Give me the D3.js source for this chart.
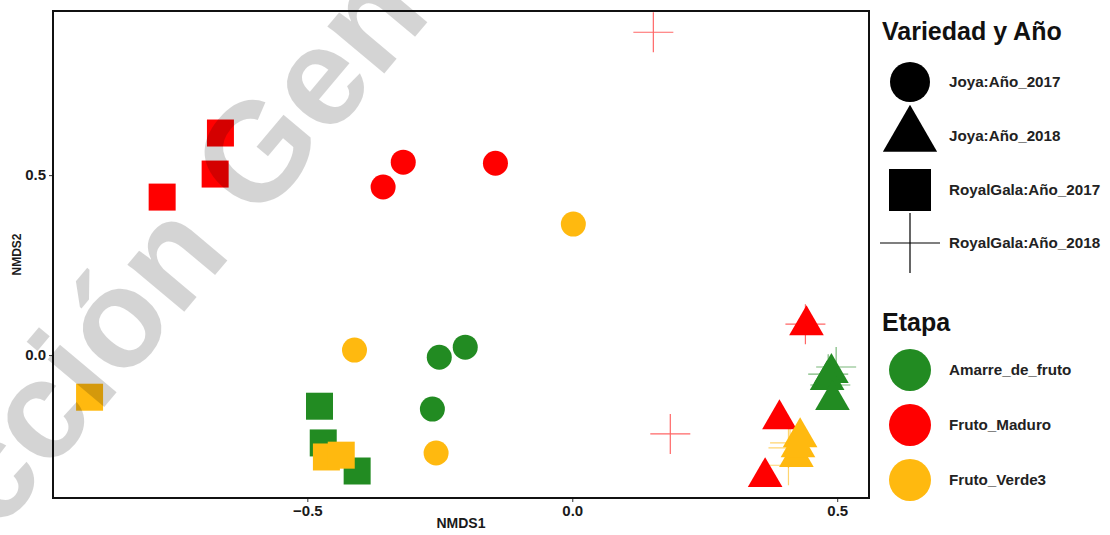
<!DOCTYPE html>
<html>
<head>
<meta charset="utf-8">
<script src="https://cdn.jsdelivr.net/npm/d3@7"></script>
<style>
  html, body { margin: 0; padding: 0; background: #fff; }
  svg { display: block; }
  text { font-family: "Liberation Sans", Arial, sans-serif; font-weight: bold; }
</style>
</head>
<body>
<svg id="chart" width="1110" height="535"></svg>
<script>
// ---- data ----
const groups = ["Joya:Año_2017", "Joya:Año_2018", "RoyalGala:Año_2017", "RoyalGala:Año_2018"];
const stages = ["Amarre_de_fruto", "Fruto_Maduro", "Fruto_Verde3"];
const stageColors = ["#228B22", "#FF0000", "#FFB90F"];

// NMDS1 / NMDS2 per group, per stage (three replicates each)
const joya2017_x = [[-0.251, -0.202, -0.264], [-0.319, -0.357, -0.145], [0.002, -0.257, -0.411]];
const joya2017_y = [[-0.006, 0.022, -0.150], [0.536, 0.467, 0.533], [0.364, -0.272, 0.014]];
const joya2018_x = [[0.489, 0.481, 0.491], [0.442, 0.391, 0.364], [0.430, 0.423, 0.426]];
const joya2018_y = [[-0.050, -0.069, -0.125], [0.083, -0.178, -0.339], [-0.228, -0.283, -0.256]];
const gala2017_x = [[-0.477, -0.470, -0.406], [-0.664, -0.674, -0.774], [-0.911, -0.464, -0.436]];
const gala2017_y = [[-0.142, -0.244, -0.322], [0.617, 0.503, 0.439], [-0.117, -0.283, -0.278]];
const gala2018_x = [[0.498, 0.483, 0.487], [0.153, 0.185, 0.440], [0.411, 0.408, 0.408]];
const gala2018_y = [[-0.033, -0.053, -0.083], [0.897, -0.219, 0.086], [-0.244, -0.258, -0.306]];

const xTicks = [-0.5, 0.0, 0.5];
const yTicks = [0.0, 0.5];
const xTitle = "NMDS1";
const yTitle = "NMDS2";
const shapeTitle = "Variedad y Año";
const colorTitle = "Etapa";
const watermark = "Dirección General";

// ---- build rows ----
const groupData = [
  [joya2017_x, joya2017_y],
  [joya2018_x, joya2018_y],
  [gala2017_x, gala2017_y],
  [gala2018_x, gala2018_y]
];
const rows = [];
groupData.forEach(([gx, gy], gi) => {
  stages.forEach((s, si) => {
    gx[si].forEach((v, k) => rows.push({group: groups[gi], stage: s, x: v, y: gy[si][k]}));
  });
});

// ---- layout ----
const svg = d3.select("#chart");
const panel = {left: 53, right: 869, top: 11, bottom: 498};
const x = d3.scaleLinear().domain([-0.98, 0.56]).range([panel.left, panel.right]);
const y = d3.scaleLinear().domain([-0.397, 0.956]).range([panel.bottom, panel.top]);
const color = d3.scaleOrdinal().domain(stages).range(stageColors);

function crossPath(h) {
  return `M${-h},0L${h},0M0,${-h}L0,${h}`;
}
const shapeFor = {
  "Joya:Año_2017": s => d3.symbol(d3.symbolCircle, Math.PI * (s * 0.5) ** 2)(),
  "Joya:Año_2018": s => d3.symbol(d3.symbolTriangle, (s * 0.3333) ** 2 * Math.sqrt(3) * 3)(),
  "RoyalGala:Año_2017": s => d3.symbol(d3.symbolSquare, s * s)(),
  "RoyalGala:Año_2018": s => crossPath(s * 0.5)
};
const plotSize = {"Joya:Año_2017": 25, "Joya:Año_2018": 30, "RoyalGala:Año_2017": 27, "RoyalGala:Año_2018": 40};
const legSize = {"Joya:Año_2017": 40, "Joya:Año_2018": 47, "RoyalGala:Año_2017": 42, "RoyalGala:Año_2018": 60};

// panel background
svg.append("rect").attr("x", panel.left).attr("y", panel.top)
  .attr("width", panel.right - panel.left).attr("height", panel.bottom - panel.top)
  .attr("fill", "#fff");

// axes
const xAxis = d3.axisBottom(x).tickValues(xTicks).tickFormat(d3.format(".1f")).tickSize(4).tickPadding(3);
const gx = svg.append("g").attr("transform", `translate(0,${panel.bottom})`).call(xAxis);
gx.select(".domain").remove();
gx.selectAll("line").attr("stroke", "#333");
gx.selectAll("text").attr("font-size", 15).attr("fill", "#1a1a1a")
  .attr("font-family", "Liberation Sans, Arial, sans-serif").attr("font-weight", "bold");

const yAxis = d3.axisLeft(y).tickValues(yTicks).tickFormat(d3.format(".1f")).tickSize(4).tickPadding(3);
const gy = svg.append("g").attr("transform", `translate(${panel.left},0)`).call(yAxis);
gy.select(".domain").remove();
gy.selectAll("line").attr("stroke", "#333");
gy.selectAll("text").attr("font-size", 15).attr("fill", "#1a1a1a")
  .attr("font-family", "Liberation Sans, Arial, sans-serif").attr("font-weight", "bold");

svg.append("text").attr("x", (panel.left + panel.right) / 2).attr("y", 528)
  .attr("text-anchor", "middle").attr("font-size", 14).attr("fill", "#1a1a1a").text(xTitle);
svg.append("text").attr("transform", `translate(21,${(panel.top + panel.bottom) / 2}) rotate(-90)`)
  .attr("text-anchor", "middle").attr("font-size", 12).attr("fill", "#1a1a1a").text(yTitle);

// points: crosses first, then filled shapes in stage order
const plotG = svg.append("g");
const crossRows = rows.filter(d => d.group === "RoyalGala:Año_2018");
const filledRows = stages.flatMap(s => rows.filter(d => d.stage === s && d.group !== "RoyalGala:Año_2018"));
plotG.selectAll("path.cross").data(crossRows).join("path").attr("class", "cross")
  .attr("transform", d => `translate(${x(d.x)},${y(d.y)})`)
  .attr("d", d => shapeFor[d.group](plotSize[d.group]))
  .attr("fill", "none").attr("stroke", d => color(d.stage)).attr("stroke-width", 1.2).attr("stroke-opacity", 0.6);
plotG.selectAll("path.pt").data(filledRows).join("path").attr("class", "pt")
  .attr("transform", d => `translate(${x(d.x)},${y(d.y)})`)
  .attr("d", d => shapeFor[d.group](plotSize[d.group]))
  .attr("fill", d => color(d.stage));

// panel border
svg.append("rect").attr("x", panel.left).attr("y", panel.top)
  .attr("width", panel.right - panel.left).attr("height", panel.bottom - panel.top)
  .attr("fill", "none").attr("stroke", "#111").attr("stroke-width", 2);

// legends
const lg = svg.append("g");
lg.append("text").attr("x", 882).attr("y", 40).attr("font-size", 25).attr("fill", "#111").text(shapeTitle);
const shapeRowsY = [82, 136, 190, 243];
groups.forEach((g, i) => {
  const cy = shapeRowsY[i];
  const p = lg.append("path").attr("transform", `translate(910,${cy})`).attr("d", shapeFor[g](legSize[g]));
  if (g === "RoyalGala:Año_2018") p.attr("fill", "none").attr("stroke", "#000").attr("stroke-width", 1.2);
  else p.attr("fill", "#000");
  lg.append("text").attr("x", 949).attr("y", cy).attr("dy", "0.35em").attr("font-size", 15.2)
    .attr("fill", "#222").text(g);
});
lg.append("text").attr("x", 882).attr("y", 331).attr("font-size", 25).attr("fill", "#111").text(colorTitle);
const colorRowsY = [370, 425, 480];
stages.forEach((s, i) => {
  const cy = colorRowsY[i];
  lg.append("circle").attr("cx", 910).attr("cy", cy).attr("r", 21).attr("fill", color(s));
  lg.append("text").attr("x", 949).attr("y", cy).attr("dy", "0.35em").attr("font-size", 15.2)
    .attr("fill", "#222").text(s);
});

// watermark
const wm = svg.append("text").attr("font-size", 140).attr("font-weight", "normal")
  .attr("font-family", "Liberation Sans, Arial, sans-serif")
  .attr("fill", "#000").attr("fill-opacity", 0.17).text(watermark);
const pre = watermark.indexOf("General");
const preWidth = wm.node().getSubStringLength(0, pre);
wm.attr("x", -preWidth).attr("transform", "translate(258,224) rotate(-50)");
</script>
</body>
</html>
